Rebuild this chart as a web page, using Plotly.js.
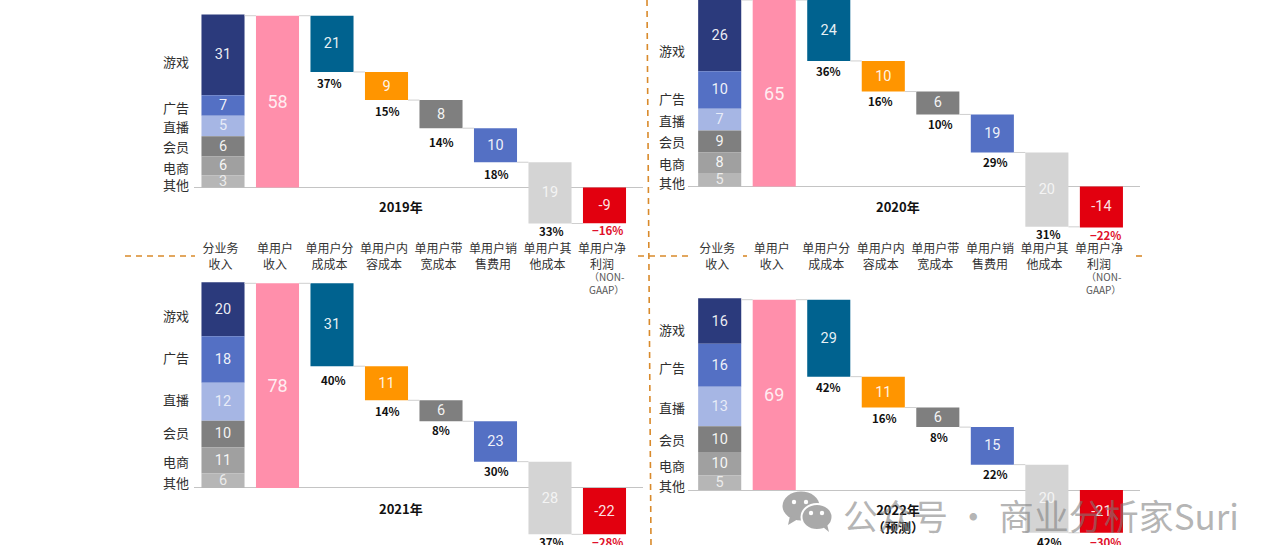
<!DOCTYPE html>
<html><head><meta charset="utf-8">
<script src="https://cdn.plot.ly/plotly-3.0.1.min.js"></script>
<style>html,body{margin:0;padding:0;background:#fff}#c{width:1280px;height:545px}</style>
</head><body><div id="c"></div>
<script>
// ---------- text ----------
var segments = ['游戏','广告','直播','会员','电商','其他'];
var columns = ['分业务<br>收入','单用户<br>收入','单用户分<br>成成本','单用户内<br>容成本','单用户带<br>宽成本','单用户销<br>售费用','单用户其<br>他成本','单用户净<br>利润'];
var years = ['2019年','2020年','2021年','2022年<br>（预测）'];

// ---------- printed values ----------
var stack2019 = [31,7,5,6,6,3],      revenue2019 = 58, costs2019 = [21,9,8,10,19],  net2019 = -9;
var stack2020 = [26,10,7,9,8,5],     revenue2020 = 65, costs2020 = [24,10,6,19,20], net2020 = -14;
var stack2021 = [20,18,12,10,11,6],  revenue2021 = 78, costs2021 = [31,11,6,23,28], net2021 = -22;
var stack2022 = [16,16,13,10,10,5],  revenue2022 = 69, costs2022 = [29,11,6,15,20], net2022 = -21;
var pct2019 = ['37%','15%','14%','18%','33%','−16%'];
var pct2020 = ['36%','16%','10%','29%','31%','−22%'];
var pct2021 = ['40%','14%','8%','30%','37%','−28%'];
var pct2022 = ['42%','16%','8%','22%','42%','−30%'];

// ---------- bar lengths as actually drawn in the picture (not to scale with the printed numbers) ----------
var stackDrawn2019 = [27.3,6.9,6.9,6.9,6.3,4.1],   costDrawn2019 = [19.0,9.5,9.5,11.5,20.7],  netDrawn2019 = -12.1;
var stackDrawn2020 = [24.9,13.1,7.6,7.7,7.2,4.7],  costDrawn2020 = [21.3,10.7,8.0,13.3,26.0], netDrawn2020 = -14.3;
var stackDrawn2021 = [20.6,17.7,14.5,10.1,9.9,5.6],costDrawn2021 = [31.6,13.0,8.0,15.4,27.7], netDrawn2021 = -17.7;
var stackDrawn2022 = [16.5,15.6,14.3,9.3,8.5,5.3], costDrawn2022 = [27.9,11.2,7.1,13.6,24.7], netDrawn2022 = -15.5;

// ---------- style ----------
var stackColors = ['#2b3a7c','#5470c4','#a6b6e4','#7f7f7f','#a0a0a0','#b6b6b6'];
var revenueColor = '#ff8fab';
var costColors = ['#00628f','#ff9500','#7f7f7f','#5470c4','#d4d4d4'];
var netColor = '#e2000f';
var digitFont = 'Roboto,"Noto Sans",sans-serif';
var cjkFont = '"Noto Sans CJK SC","Noto Sans",sans-serif';

// ---------- panel layout (pixels) ----------
var panels = [
 {key:'',  left:193.7,right:643, top:0,  bottom:240,zero:187.4,unit:2.96, first:223,  pitch:54.5,
  stack:stack2019,rev:revenue2019,costs:costs2019,net:net2019,pct:pct2019,sd:stackDrawn2019,cd:costDrawn2019,nd:netDrawn2019,revDrawn:58,
  ticks:true, catShift:[7,1.5,1,0,1.7,3.5], pctY:[11,11.3,14,11.3,7,7], pctX:[-2.4,.5,.8,.5,1,3], yearX:401,yearY:206.5},
 {key:'2', left:688,  right:1140,top:0,  bottom:240,zero:186.5,unit:2.86, first:719.7,pitch:54.53,
  stack:stack2020,rev:revenue2020,costs:costs2020,net:net2020,pct:pct2020,sd:stackDrawn2020,cd:costDrawn2020,nd:netDrawn2020,revDrawn:65.2,
  ticks:true, catShift:[15,8.7,.5,0,1,2.3], pctY:[10,9,10,10,7.4,7.4], pctX:[0,-2.3,3,3.3,1.8,3.6], yearX:898,yearY:206},
 {key:'3', left:193.7,right:643, top:275,bottom:545,zero:487.9,unit:2.623,first:223,  pitch:54.5,
  stack:stack2021,rev:revenue2021,costs:costs2021,net:net2021,pct:pct2021,sd:stackDrawn2021,cd:costDrawn2021,nd:netDrawn2021,revDrawn:78,
  ticks:false,catShift:[6.4,-2.2,-2.4,-1.3,1,1.8], pctY:[13.7,10.4,9,9,7.4,7.4], pctX:[1.7,.5,-.5,1.1,1,3], yearX:401,yearY:508},
 {key:'4', left:688,  right:1140,top:285,bottom:545,zero:490,  unit:2.758,first:719.7,pitch:54.53,
  stack:stack2022,rev:revenue2022,costs:costs2022,net:net2022,pct:pct2022,sd:stackDrawn2022,cd:costDrawn2022,nd:netDrawn2022,revDrawn:69,
  ticks:false,catShift:[8.5,2.5,1.3,.5,2,2.7], pctY:[10.6,10,10,9,9,9], pctX:[0,1,1.5,3.5,2.7,4], yearX:898,yearY:518}
];
var W = 1280, H = 545, barW = 0.79;
function PX(p){return p/W;} function PY(p){return 1-p/H;}

var data = [], annotations = [], shapes = [], layout = {
  width:W,height:H,margin:{l:0,r:0,t:0,b:0},paper_bgcolor:'#fff',plot_bgcolor:'rgba(0,0,0,0)',
  barmode:'overlay',showlegend:false,hovermode:false,font:{family:cjkFont}
};

panels.forEach(function(p,pi){
  var xa='x'+p.key, ya='y'+p.key;
  layout['xaxis'+p.key]={
    domain:[PX(p.left),PX(p.right)], anchor:ya, fixedrange:true,
    range:[(p.left-p.first)/p.pitch,(p.right-p.first)/p.pitch],
    showgrid:false,zeroline:false,showline:false,ticks:'',automargin:false,
    showticklabels:p.ticks,tickmode:'array',
    tickvals:columns.map(function(_,i){return i-0.045;}),ticktext:columns,tickangle:0,
    tickfont:{family:cjkFont,size:12,color:'#333333'}
  };
  layout['yaxis'+p.key]={
    domain:[PY(p.bottom),PY(p.top)],anchor:xa,fixedrange:true,
    range:[(p.zero-p.bottom)/p.unit,(p.zero-p.top)/p.unit],
    showgrid:false,showticklabels:false,ticks:'',showline:false,automargin:false,
    zeroline:true,zerolinecolor:'#c4c4c4',zerolinewidth:1
  };
  var xs=[],bases=[],lens=[],cols=[],txt=[],tc=[],i;
  var running=p.sd.reduce(function(a,b){return a+b;},0);
  for(i=0;i<p.sd.length;i++){
    running-=p.sd[i];
    xs.push(0);bases.push(running);lens.push(p.sd[i]);cols.push(stackColors[i]);txt.push(String(p.stack[i]));
    tc.push(i===2||i===5?'rgba(255,255,255,.75)':'rgba(255,255,255,.92)');
    annotations.push({xref:xa,yref:ya,x:0,y:running+p.sd[i]/2,text:segments[i],showarrow:false,xanchor:'center',yanchor:'middle',
      xshift:-47.5,yshift:-p.catShift[i],font:{family:cjkFont,size:13,color:'#2f2f2f'}});
  }
  xs.push(1);bases.push(0);lens.push(p.revDrawn);cols.push(revenueColor);txt.push(String(p.rev));tc.push('rgba(255,255,255,.85)');
  var level=p.revDrawn, conn={x:[],y:[]};
  function link(a,y){conn.x.push(a+barW/2,a+1-barW/2,null);conn.y.push(y,y,null);}
  link(0,level);link(1,level);
  for(i=0;i<p.cd.length;i++){
    level-=p.cd[i];
    xs.push(i+2);bases.push(level);lens.push(p.cd[i]);cols.push(costColors[i]);txt.push(String(p.costs[i]));
    tc.push(i===4?'rgba(255,255,255,.75)':'rgba(255,255,255,.92)');
    link(i+2,level);
    annotations.push({xref:xa,yref:ya,x:i+2,y:level,text:p.pct[i],showarrow:false,xanchor:'center',yanchor:'middle',
      xshift:p.pctX[i],yshift:-p.pctY[i],font:{family:cjkFont,size:11.5,weight:600,color:'#111'}});
  }
  xs.push(7);bases.push(p.nd);lens.push(-p.nd);cols.push(netColor);txt.push(String(p.net));tc.push('rgba(255,255,255,.9)');
  annotations.push({xref:xa,yref:ya,x:7,y:p.nd,text:p.pct[5],showarrow:false,xanchor:'center',yanchor:'middle',
      xshift:p.pctX[5],yshift:-p.pctY[5],font:{family:cjkFont,size:11.5,weight:600,color:'#e0102a'}});
  data.push({type:'scatter',mode:'lines',xaxis:xa,yaxis:ya,x:conn.x,y:conn.y,line:{color:'#cfcfcf',width:1},hoverinfo:'skip',connectgaps:false});
  data.push({type:'bar',xaxis:xa,yaxis:ya,x:xs,y:lens,base:bases,width:barW,marker:{color:cols,line:{width:0}},
    text:txt,textposition:'inside',insidetextanchor:'middle',textangle:0,constraintext:'none',cliponaxis:true,
    insidetextfont:{family:digitFont,size:txt.map(function(_,k){return xs[k]===1?18:14.5;}),color:tc},hoverinfo:'skip'});
  annotations.push({xref:'paper',yref:'paper',x:PX(p.yearX),y:PY(p.yearY),text:years[pi],showarrow:false,xanchor:'center',yanchor:'middle',
      font:{family:cjkFont,size:13,weight:600,color:'#111'}});
});

// NON-GAAP note under the net-profit column
[607,1103.5].forEach(function(x){
  annotations.push({xref:'paper',yref:'paper',x:PX(x),y:PY(283),text:'（NON-<br>GAAP）',showarrow:false,xanchor:'center',yanchor:'middle',
    font:{family:cjkFont,size:10,color:'#555'}});
});

// dashed dividers
var dash={color:'#d98a2b',width:1.6,dash:'6px,5px'};
function seg(x0,y0,x1,y1){shapes.push({type:'line',xref:'paper',yref:'paper',x0:PX(x0),y0:PY(y0),x1:PX(x1),y1:PY(y1),line:dash,layer:'below'});}
seg(647,0,651,545);
seg(125,256,195,256);seg(638,256,689,256);seg(743,256,747,256);seg(1136,256,1143,256);

// watermark
function icon(cx,cy,rx,ry,col,line){shapes.push({type:'circle',xref:'paper',yref:'paper',x0:PX(cx-rx),x1:PX(cx+rx),y0:PY(cy-ry),y1:PY(cy+ry),fillcolor:col,line:line||{width:0}});}
icon(801,506,18.5,14.5,'#a9a9a9');
shapes.push({type:'path',xref:'paper',yref:'paper',path:'M '+PX(790)+' '+PY(516)+' L '+PX(788)+' '+PY(525)+' L '+PX(798)+' '+PY(519)+' Z',fillcolor:'#a9a9a9',line:{width:0}});
icon(817,517,15.5,13,'#a9a9a9',{color:'#fff',width:2});
shapes.push({type:'path',xref:'paper',yref:'paper',path:'M '+PX(823)+' '+PY(527)+' L '+PX(829)+' '+PY(532)+' L '+PX(827)+' '+PY(524)+' Z',fillcolor:'#a9a9a9',line:{width:0}});
[[794,502],[806,502],[811,513],[822,513]].forEach(function(e){icon(e[0],e[1],2.2,2.2,'#fff');});
annotations.push({xref:'paper',yref:'paper',x:PX(1041),y:PY(514),text:'公众号 · 商业分析家Suri',showarrow:false,xanchor:'center',yanchor:'middle',
  font:{family:'"Noto Sans CJK SC","Noto Sans",sans-serif',size:35,color:'rgba(125,125,125,.58)'}});

layout.annotations=annotations;layout.shapes=shapes;
Plotly.newPlot('c',data,layout,{staticPlot:true,displayModeBar:false});
</script></body></html>
